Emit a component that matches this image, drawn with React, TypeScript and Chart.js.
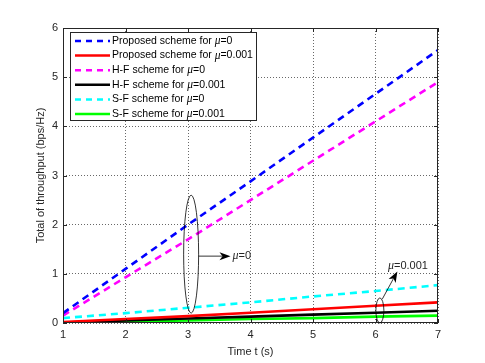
import React, { useEffect, useRef } from "react";
import { Chart, registerables } from "chart.js";

Chart.register(...registerables);

const times = [1, 2, 3, 4, 5, 6, 7];
const proposedMu0 = [0.2, 1.1, 2.0, 2.88, 3.77, 4.66, 5.55];
const proposedMu001 = [0.02, 0.08, 0.14, 0.21, 0.28, 0.35, 0.42];
const hfMu0 = [0.15, 0.93, 1.7, 2.5, 3.3, 4.1, 4.9];
const hfMu001 = [0.01, 0.05, 0.09, 0.13, 0.17, 0.21, 0.25];
const sfMu0 = [0.1, 0.2, 0.31, 0.42, 0.54, 0.65, 0.77];
const sfMu001 = [0.0, 0.03, 0.05, 0.08, 0.1, 0.13, 0.15];
const yTicks = [0, 1, 2, 3, 4, 5, 6];

const seriesNames = [
  ["Proposed scheme for ", "=0"],
  ["Proposed scheme for ", "=0.001"],
  ["H-F scheme for ", "=0"],
  ["H-F scheme for ", "=0.001"],
  ["S-F scheme for ", "=0"],
  ["S-F scheme for ", "=0.001"],
];
const seriesColors = ["#0000ff", "#ff0000", "#ff00ff", "#000000", "#00ffff", "#00ff00"];
const seriesDashed = [true, false, true, false, true, false];
const seriesValues = [proposedMu0, proposedMu001, hfMu0, hfMu001, sfMu0, sfMu001];

const FONT = "'Liberation Sans', Arial, sans-serif";

function drawMuText(ctx: CanvasRenderingContext2D, x: number, y: number, pre: string, post: string, size: number) {
  ctx.textBaseline = "middle";
  ctx.textAlign = "left";
  ctx.font = `${size}px ${FONT}`;
  ctx.fillText(pre, x, y);
  let cx = x + ctx.measureText(pre).width;
  ctx.font = `italic ${size + 1}px 'Liberation Serif', serif`;
  ctx.fillText("\u03bc", cx, y);
  cx += ctx.measureText("\u03bc").width;
  ctx.font = `${size}px ${FONT}`;
  ctx.fillText(post, cx, y);
}

const decorPlugin = {
  id: "decor",
  afterDatasetsDraw(chart: any) {
    const ctx: CanvasRenderingContext2D = chart.ctx;
    const { left, right, top, bottom } = chart.chartArea;
    const xs = chart.scales.x;
    const ys = chart.scales.y;
    ctx.save();
    // box
    ctx.strokeStyle = "#262626";
    ctx.lineWidth = 1;
    ctx.setLineDash([]);
    ctx.strokeRect(left + 0.5, top + 0.5, right - left - 1, bottom - top - 1);
    // inward ticks
    ctx.beginPath();
    for (const t of times) {
      const px = Math.round(xs.getPixelForValue(t)) + 0.5;
      ctx.moveTo(px, bottom);
      ctx.lineTo(px, bottom - 4);
      ctx.moveTo(px, top);
      ctx.lineTo(px, top + 4);
    }
    for (const t of yTicks) {
      const py = Math.round(ys.getPixelForValue(t)) + 0.5;
      ctx.moveTo(left, py);
      ctx.lineTo(left + 4, py);
      ctx.moveTo(right, py);
      ctx.lineTo(right - 4, py);
    }
    ctx.stroke();

    // annotation mu=0 ellipse
    ctx.strokeStyle = "#000";
    ctx.fillStyle = "#000";
    ctx.lineWidth = 0.8;
    const ex = xs.getPixelForValue(3.05);
    const ey1 = ys.getPixelForValue(2.6);
    const ey2 = ys.getPixelForValue(0.2);
    ctx.beginPath();
    ctx.ellipse(ex, (ey1 + ey2) / 2, 7.5, (ey2 - ey1) / 2, 0, 0, Math.PI * 2);
    ctx.stroke();
    const ay = ys.getPixelForValue(1.36);
    const ax1 = ex + 7.5;
    const ax2 = xs.getPixelForValue(3.68);
    ctx.beginPath();
    ctx.moveTo(ax1, ay);
    ctx.lineTo(ax2 - 8, ay);
    ctx.stroke();
    ctx.beginPath();
    ctx.moveTo(ax2, ay);
    ctx.lineTo(ax2 - 11, ay - 4);
    ctx.lineTo(ax2 - 8, ay);
    ctx.lineTo(ax2 - 11, ay + 4);
    ctx.closePath();
    ctx.fill();
    ctx.fillStyle = "#262626";
    drawMuText(ctx, ax2 + 2, ay, "", "=0", 11);

    // annotation mu=0.001 ellipse
    ctx.fillStyle = "#000";
    const fx = xs.getPixelForValue(6.07);
    const fy1 = ys.getPixelForValue(0.51);
    const fy2 = ys.getPixelForValue(0.0);
    ctx.beginPath();
    ctx.ellipse(fx, (fy1 + fy2) / 2, 4, (fy2 - fy1) / 2, 0, 0, Math.PI * 2);
    ctx.stroke();
    const sx = fx + 2.5;
    const sy = fy1 + 1;
    const tx = xs.getPixelForValue(6.35);
    const ty = ys.getPixelForValue(1.05);
    const ang = Math.atan2(ty - sy, tx - sx);
    ctx.beginPath();
    ctx.moveTo(sx, sy);
    ctx.lineTo(tx - 8 * Math.cos(ang), ty - 8 * Math.sin(ang));
    ctx.stroke();
    ctx.beginPath();
    ctx.moveTo(tx, ty);
    ctx.lineTo(tx - 11 * Math.cos(ang) + 4 * Math.sin(ang), ty - 11 * Math.sin(ang) - 4 * Math.cos(ang));
    ctx.lineTo(tx - 8 * Math.cos(ang), ty - 8 * Math.sin(ang));
    ctx.lineTo(tx - 11 * Math.cos(ang) - 4 * Math.sin(ang), ty - 11 * Math.sin(ang) + 4 * Math.cos(ang));
    ctx.closePath();
    ctx.fill();
    ctx.fillStyle = "#262626";
    drawMuText(ctx, xs.getPixelForValue(6.2), ys.getPixelForValue(1.17), "", "=0.001", 11);

    // legend
    const lx = left + 7;
    const ly = top + 4;
    const lw = 186;
    const lh = 88;
    ctx.fillStyle = "#fff";
    ctx.fillRect(lx, ly, lw, lh);
    ctx.strokeStyle = "#262626";
    ctx.lineWidth = 1;
    ctx.strokeRect(lx + 0.5, ly + 0.5, lw, lh);
    chart.data.datasets.forEach((ds: any, i: number) => {
      const ry = ly + 9 + i * 14.6;
      ctx.strokeStyle = ds.borderColor;
      ctx.lineWidth = 2.5;
      ctx.setLineDash(seriesDashed[i] ? [6, 5] : []);
      ctx.beginPath();
      ctx.moveTo(lx + 5, ry);
      ctx.lineTo(lx + 40, ry);
      ctx.stroke();
      ctx.setLineDash([]);
      ctx.fillStyle = "#000";
      drawMuText(ctx, lx + 42, ry, seriesNames[i][0], seriesNames[i][1], 10.5);
    });
    ctx.restore();
  },
};

export default function App() {
  const ref = useRef<HTMLCanvasElement>(null);
  useEffect(() => {
    document.body.style.margin = "0";
    const chart = new Chart(ref.current!, {
      type: "line",
      data: {
        datasets: seriesValues.map((vals, i) => ({
          label: seriesNames[i][0] + "\u03bc" + seriesNames[i][1],
          data: times.map((t, j) => ({ x: t, y: vals[j] })),
          borderColor: seriesColors[i],
          backgroundColor: seriesColors[i],
          borderWidth: 2.6,
          borderDash: seriesDashed[i] ? [7, 5] : [],
          pointRadius: 0,
          tension: 0,
          fill: false,
        })),
      },
      options: {
        responsive: false,
        animation: false,
        layout: { padding: { top: 28, right: 47, left: 34, bottom: 0 } },
        plugins: { legend: { display: false }, tooltip: { enabled: false } },
        scales: {
          x: {
            type: "linear",
            min: 1,
            max: 7,
            afterFit: (s: any) => {
              s.height = 40;
            },
            ticks: {
              stepSize: 1,
              color: "#262626",
              font: { family: FONT, size: 11 },
              padding: 5,
            },
            grid: { color: "#262626", lineWidth: 0.7, tickLength: 0, drawTicks: false },
            border: { display: false, dash: [1, 2] },
            title: {
              display: true,
              text: "Time t (s)",
              color: "#262626",
              font: { family: FONT, size: 11 },
              padding: { top: 2 },
            },
          },
          y: {
            type: "linear",
            min: 0,
            max: 6,
            afterFit: (s: any) => {
              s.width = 29;
            },
            ticks: {
              stepSize: 1,
              color: "#262626",
              font: { family: FONT, size: 11 },
              padding: 5,
            },
            grid: { color: "#262626", lineWidth: 0.7, tickLength: 0, drawTicks: false },
            border: { display: false, dash: [1, 2] },
            title: {
              display: true,
              text: "Total of throughput (bps/Hz)",
              color: "#262626",
              font: { family: FONT, size: 11 },
              padding: { bottom: 0, top: 0 },
            },
          },
        },
      },
      plugins: [decorPlugin],
    } as any);
    return () => chart.destroy();
  }, []);
  return (
    <div style={{ position: "absolute", left: 0, top: 0 }}>
      <canvas ref={ref} width={485} height={363} style={{ width: 485, height: 363, display: "block" }} />
    </div>
  );
}
